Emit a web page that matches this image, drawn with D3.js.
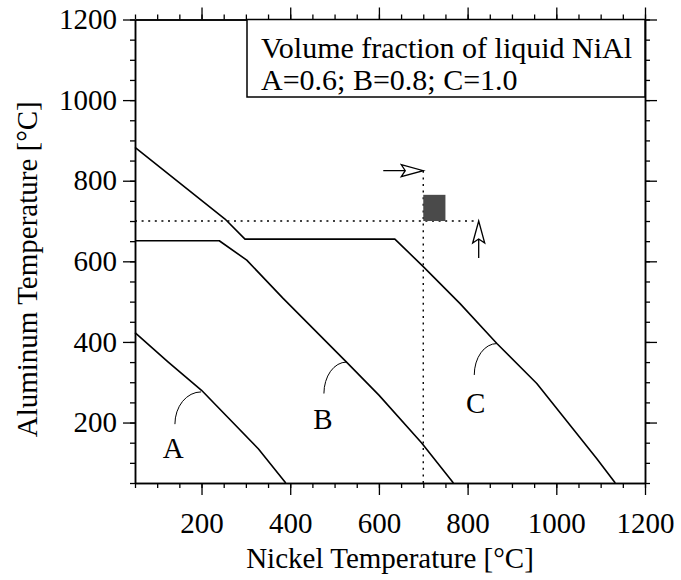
<!DOCTYPE html>
<html>
<head>
<meta charset="utf-8">
<script src="https://cdn.jsdelivr.net/npm/d3@7"></script>
<style>
body { margin: 0; background: #fff; }
text { font-family: "Liberation Serif", "Times New Roman", serif; fill: #000; }
</style>
</head>
<body>
<svg id="chart" width="681" height="580"></svg>
<script>
// curves: [nickel T, aluminum T] in deg C
var curveA = [[50, 423], [125, 350], [200, 280], [328, 135], [390, 50]];
var curveB = [[50, 651], [240, 651], [302, 603], [384, 508], [527, 350], [600, 268], [696, 150], [768, 50]];
var curveC = [[50, 883], [253, 705], [298, 655], [636, 655], [700, 587], [783, 495], [866, 396], [956, 297], [1091, 111], [1133, 50]];
var curveNames = ['A', 'B', 'C'];

// leader arcs: point on curve, tail end, label spot
var labelAnchor = [[199, 276], [527, 350], [866, 396]];
var labelTail = [[140, 196], [476, 272], [815, 318]];
var labelPos = [[136, 111], [474, 183], [818, 223]];

var xTicks = [200, 400, 600, 800, 1000, 1200];
var yTicks = [200, 400, 600, 800, 1000, 1200];
var minorTicks = d3.range(50, 1201, 50);

var legendLines = ['Volume fraction of liquid NiAl', 'A=0.6; B=0.8; C=1.0'];

// operating point and the window above it
var opNi = 700, opAl = 700, guideEnd = 825;
var windowNi = [700, 750], windowAl = [700, 765];

var margin = {top: 19.5, right: 36, bottom: 97, left: 135};
var width = 681 - margin.left - margin.right;
var height = 580 - margin.top - margin.bottom;

var svg = d3.select('#chart');
var g = svg.append('g')
    .attr('transform', 'translate(' + margin.left + ',' + margin.top + ')');

var x = d3.scaleLinear().domain([50, 1200]).range([0, width]);
var y = d3.scaleLinear().domain([50, 1200]).range([height, 0]);

// axes: minor ticks every 50, longer major ticks with labels
function styleAxis(sel) {
    sel.selectAll('path').attr('stroke', '#000').attr('stroke-width', 1.5);
    sel.selectAll('line').attr('stroke', '#000').attr('stroke-width', 1.3);
}

var axes = [
    {gen: d3.axisBottom, t: 'translate(0,' + height + ')', labels: true, vals: xTicks, pad: 17},
    {gen: d3.axisTop, t: 'translate(0,0)', labels: false, vals: xTicks},
    {gen: d3.axisLeft, t: 'translate(0,0)', labels: true, vals: yTicks, pad: 6},
    {gen: d3.axisRight, t: 'translate(' + width + ',0)', labels: false, vals: yTicks}
];
axes.forEach(function(a) {
    var sc = (a.gen === d3.axisBottom || a.gen === d3.axisTop) ? x : y;
    g.append('g').attr('transform', a.t)
        .call(a.gen(sc).tickValues(minorTicks).tickSize(5).tickSizeOuter(0).tickFormat(''))
        .call(styleAxis);
    var major = a.gen(sc).tickValues(a.vals).tickSize(12).tickSizeOuter(0);
    if (a.labels) major.tickPadding(a.pad).tickFormat(d3.format('d'));
    else major.tickFormat('');
    g.append('g').attr('transform', a.t)
        .call(major)
        .call(styleAxis)
        .selectAll('text')
        .style('font-size', '29px')
        .style('font-family', '"Liberation Serif", serif');
});

// axis titles
svg.append('text')
    .attr('x', margin.left + width / 2)
    .attr('y', 568)
    .attr('text-anchor', 'middle')
    .style('font-size', '29px')
    .text('Nickel Temperature [\u00b0C]');

svg.append('text')
    .attr('transform', 'translate(37,' + (margin.top + height / 2 + 18) + ') rotate(-90)')
    .attr('text-anchor', 'middle')
    .style('font-size', '29px')
    .text('Aluminum Temperature [\u00b0C]');

// dotted guides through the operating point
g.append('path')
    .attr('d', d3.line()([[x(50), y(opAl)], [x(guideEnd), y(opAl)]]))
    .attr('fill', 'none').attr('stroke', '#000').attr('stroke-width', 1.4)
    .attr('stroke-dasharray', '2,4.6');
g.append('path')
    .attr('d', d3.line()([[x(opNi), y(50)], [x(opNi), y(guideEnd)]]))
    .attr('fill', 'none').attr('stroke', '#000').attr('stroke-width', 1.4)
    .attr('stroke-dasharray', '2,4.6');

// shaded window
g.append('rect')
    .attr('x', x(windowNi[0]))
    .attr('y', y(windowAl[1]))
    .attr('width', x(windowNi[1]) - x(windowNi[0]))
    .attr('height', y(windowAl[0]) - y(windowAl[1]))
    .attr('fill', '#4a4a4a');

// open arrows at the ends of the guides
var tipR = [x(opNi), y(guideEnd)];
g.append('path')
    .attr('d', 'M' + (tipR[0] - 40) + ',' + tipR[1] + 'H' + (tipR[0] - 18) +
        'M' + (tipR[0] - 22) + ',' + (tipR[1] - 6) + 'L' + tipR[0] + ',' + tipR[1] +
        'L' + (tipR[0] - 22) + ',' + (tipR[1] + 6) + 'L' + (tipR[0] - 18) + ',' + tipR[1] + 'Z')
    .attr('fill', '#fff').attr('stroke', '#000').attr('stroke-width', 1.3);
var tipU = [x(guideEnd), y(opAl)];
g.append('path')
    .attr('d', 'M' + tipU[0] + ',' + (tipU[1] + 37) + 'V' + (tipU[1] + 18) +
        'M' + (tipU[0] - 6) + ',' + (tipU[1] + 22) + 'L' + tipU[0] + ',' + tipU[1] +
        'L' + (tipU[0] + 6) + ',' + (tipU[1] + 22) + 'L' + tipU[0] + ',' + (tipU[1] + 18) + 'Z')
    .attr('fill', '#fff').attr('stroke', '#000').attr('stroke-width', 1.3);

// curves
var line = d3.line().x(function(d) { return x(d[0]); }).y(function(d) { return y(d[1]); });
[curveA, curveB, curveC].forEach(function(c) {
    g.append('path')
        .attr('d', line(c))
        .attr('fill', 'none')
        .attr('stroke', '#000')
        .attr('stroke-width', 1.6)
        .attr('stroke-linejoin', 'round');
});

// curve labels with leader arcs
curveNames.forEach(function(n, i) {
    var t = [x(labelTail[i][0]), y(labelTail[i][1])];
    var a = [x(labelAnchor[i][0]), y(labelAnchor[i][1])];
    g.append('path')
        .attr('d', 'M' + t[0] + ',' + t[1] + 'A' + (a[0] - t[0]) + ',' + (t[1] - a[1]) +
            ' 0 0 1 ' + a[0] + ',' + a[1])
        .attr('fill', 'none').attr('stroke', '#000').attr('stroke-width', 1);
    g.append('text')
        .attr('x', x(labelPos[i][0]))
        .attr('y', y(labelPos[i][1]))
        .attr('text-anchor', 'middle')
        .style('font-size', '29px')
        .text(n);
});

// legend box in the top right corner
var boxLeft = 247 - margin.left, boxBottom = 97 - margin.top;
g.append('rect')
    .attr('x', boxLeft).attr('y', 0)
    .attr('width', width - boxLeft).attr('height', boxBottom)
    .attr('fill', '#fff').attr('stroke', '#000').attr('stroke-width', 1.5);
legendLines.forEach(function(s, i) {
    g.append('text')
        .attr('x', boxLeft + 14)
        .attr('y', 38 + i * 32)
        .style('font-size', '30px')
        .text(s);
});
</script>
</body>
</html>
